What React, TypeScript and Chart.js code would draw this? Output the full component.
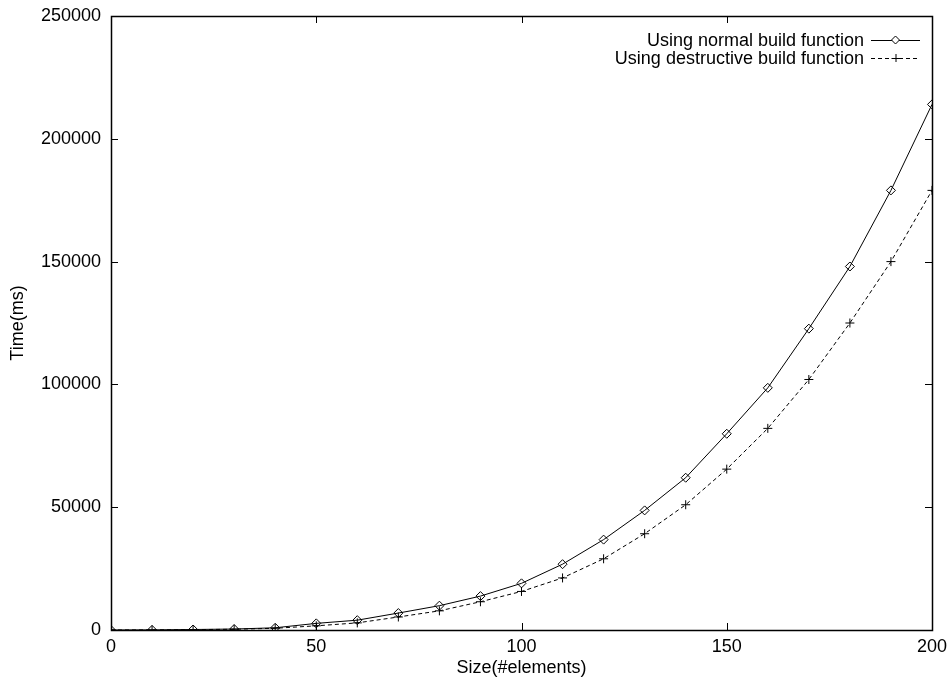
import React, { useEffect, useRef } from "react";
import { Chart, registerables } from "chart.js";

Chart.register(...registerables);

const sizes = [0, 10, 20, 30, 40, 50, 60, 70, 80, 90, 100, 110, 120, 130, 140, 150, 160, 170, 180, 190, 200];
const normalTimes = [0, 50, 200, 400, 900, 2700, 4000, 6900, 9900, 13800, 19000, 26800, 36800, 48700, 62000, 79900, 98600, 122700, 148000, 179000, 214000];
const destructiveTimes = [0, 40, 150, 300, 700, 1700, 2900, 5300, 7800, 11500, 15700, 21200, 29000, 39200, 51000, 65500, 82100, 102000, 125000, 150000, 179000];
const seriesLabels = ["Using normal build function", "Using destructive build function"];
const xTitle = "Size(#elements)";
const yTitle = "Time(ms)";

const FONT = "'Liberation Sans', Arial, Helvetica, sans-serif";
const FS = 18;

const framePlugin = {
  id: "frame",
  afterDatasetsDraw(chart: any) {
    const { ctx, chartArea: a, scales } = chart;
    ctx.save();
    ctx.strokeStyle = "#000";
    ctx.lineWidth = 1;
    ctx.setLineDash([]);
    const T = 7;
    ctx.beginPath();
    scales.x.ticks.forEach((t: any) => {
      const px = Math.round(scales.x.getPixelForValue(t.value)) + 0.5;
      ctx.moveTo(px, a.bottom);
      ctx.lineTo(px, a.bottom - T);
      ctx.moveTo(px, a.top);
      ctx.lineTo(px, a.top + T);
    });
    scales.y.ticks.forEach((t: any) => {
      const py = Math.round(scales.y.getPixelForValue(t.value)) + 0.5;
      ctx.moveTo(a.left, py);
      ctx.lineTo(a.left + T, py);
      ctx.moveTo(a.right, py);
      ctx.lineTo(a.right - T, py);
    });
    ctx.stroke();
    ctx.lineWidth = 1.5;
    ctx.strokeRect(Math.round(a.left) + 0.5, Math.round(a.top) + 0.5, Math.round(a.right - a.left), Math.round(a.bottom - a.top));

    // legend (top-right inside plot)
    ctx.font = `${FS}px ${FONT}`;
    ctx.fillStyle = "#000";
    ctx.textAlign = "right";
    ctx.textBaseline = "middle";
    const textRight = a.right - 68;
    const x0 = a.right - 61;
    const x1 = a.right - 12;
    chart.data.datasets.forEach((ds: any, i: number) => {
      const y = a.top + 24 + i * 18;
      ctx.fillText(ds.label, textRight, y + 1);
      ctx.beginPath();
      ctx.setLineDash(ds.borderDash || []);
      ctx.lineWidth = 1;
      ctx.moveTo(x0, y + 0.5);
      ctx.lineTo(x1, y + 0.5);
      ctx.stroke();
      ctx.setLineDash([]);
      const mx = (x0 + x1) / 2;
      ctx.beginPath();
      if (ds.pointStyle === "rectRot") {
        const r = 4;
        ctx.fillStyle = "#fff";
        ctx.moveTo(mx, y - r);
        ctx.lineTo(mx + r, y);
        ctx.lineTo(mx, y + r);
        ctx.lineTo(mx - r, y);
        ctx.closePath();
        ctx.fill();
        ctx.stroke();
        ctx.fillStyle = "#000";
      } else {
        const r = 4;
        ctx.moveTo(mx - r, y + 0.5);
        ctx.lineTo(mx + r, y + 0.5);
        ctx.moveTo(mx + 0.5, y - r);
        ctx.lineTo(mx + 0.5, y + r);
        ctx.stroke();
      }
    });
    ctx.restore();
  },
};

export default function App() {
  const ref = useRef<HTMLCanvasElement>(null);
  useEffect(() => {
    if (!ref.current) return;
    const chart = new Chart(ref.current, {
      type: "line",
      data: {
        datasets: [
          {
            label: seriesLabels[0],
            data: sizes.map((s, i) => ({ x: s, y: normalTimes[i] })),
            borderColor: "#000",
            borderWidth: 1,
            backgroundColor: "#fff",
            pointStyle: "rectRot",
            pointRadius: 4.5,
            pointBorderWidth: 1,
            pointBorderColor: "#000",
            pointBackgroundColor: "rgba(255,255,255,0)",
            tension: 0,
          },
          {
            label: seriesLabels[1],
            data: sizes.map((s, i) => ({ x: s, y: destructiveTimes[i] })),
            borderColor: "#000",
            borderWidth: 1,
            borderDash: [4, 3],
            pointStyle: "cross",
            pointRadius: 4.5,
            pointBorderWidth: 1,
            pointBorderColor: "#000",
            tension: 0,
          },
        ],
      },
      options: {
        animation: false,
        responsive: false,
        maintainAspectRatio: false,
        layout: { padding: { top: 16, right: 18, left: 0, bottom: 0 } },
        plugins: { legend: { display: false }, tooltip: { enabled: false } },
        scales: {
          x: {
            type: "linear",
            min: 0,
            max: 200,
            grid: { display: false, drawTicks: false },
            border: { display: false },
            ticks: { stepSize: 50, padding: 6, color: "#000", font: { family: FONT, size: FS }, maxRotation: 0, callback: (v: any) => String(v) },
            title: { display: true, text: xTitle, color: "#000", font: { family: FONT, size: FS }, padding: { top: 0, bottom: 4 } },
            afterFit: (s: any) => { s.height = 53; s.paddingLeft = 0; s.paddingRight = 0; },
          },
          y: {
            type: "linear",
            min: 0,
            max: 250000,
            grid: { display: false, drawTicks: false },
            border: { display: false },
            ticks: { stepSize: 50000, padding: 10, color: "#000", font: { family: FONT, size: FS }, callback: (v: any) => String(v) },
            title: { display: true, text: yTitle, color: "#000", font: { family: FONT, size: FS }, padding: { top: 7, bottom: 0 } },
            afterFit: (s: any) => { s.width = 111; s.paddingTop = 0; s.paddingBottom = 0; },
          },
        },
      },
      plugins: [framePlugin],
    } as any);
    return () => chart.destroy();
  }, []);
  return (
    <div style={{ position: "fixed", left: 0, top: 0, width: 950, height: 683, background: "#fff" }}>
      <canvas ref={ref} width={950} height={683} style={{ width: 950, height: 683 }} />
    </div>
  );
}
